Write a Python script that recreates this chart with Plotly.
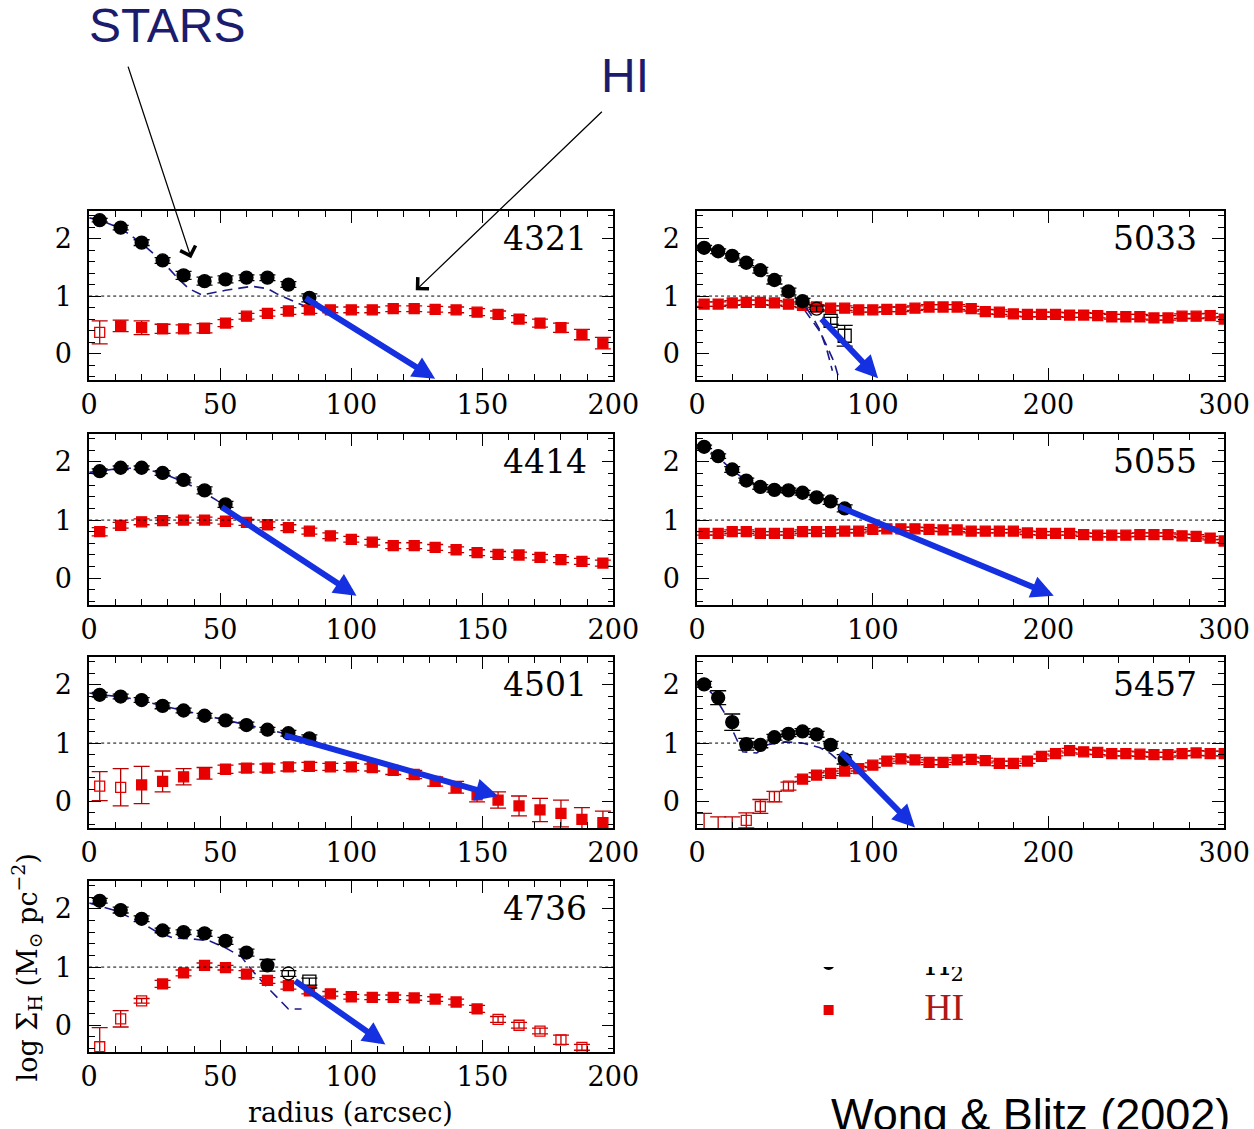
import plotly.graph_objects as go

W, H = 1254, 1129

# ---------------------------------------------------------------- radii (arcsec)
R7 = [4, 12, 20, 28, 36, 44, 52]
R11 = [4, 12, 20, 28, 36, 44, 52, 60, 68, 76, 84]
R24 = [4, 12, 20, 28, 36, 44, 52, 60, 68, 76, 84, 92, 100, 108, 116, 124,
       132, 140, 148, 156, 164, 172, 180, 188]
R25 = R24 + [196]
R38 = [4, 12, 20, 28, 36, 44, 52, 60, 68, 76, 84, 92, 100, 108, 116, 124,
       132, 140, 148, 156, 164, 172, 180, 188, 196, 204, 212, 220, 228, 236,
       244, 252, 260, 268, 276, 284, 292, 300]

# ---------------------------------------------------------------- NGC 4321
h2_4321 = [2.32, 2.19, 1.93, 1.62, 1.36, 1.26, 1.29, 1.32, 1.32, 1.20, 0.97]
h2e_4321 = [0.03, 0.04, 0.05, 0.05, 0.07, 0.07, 0.06, 0.05, 0.05, 0.05, 0.07]
hi_4321 = [0.37, 0.48, 0.45, 0.43, 0.43, 0.44, 0.53, 0.65, 0.70, 0.74, 0.76,
           0.76, 0.76, 0.76, 0.78, 0.78, 0.77, 0.76, 0.72, 0.68, 0.60, 0.53,
           0.45, 0.33, 0.18]
hie_4321 = [0.20, 0.10, 0.12, 0.08, 0.07, 0.08, 0.06, 0.05, 0.05, 0.06, 0.06,
            0.05, 0.05, 0.05, 0.05, 0.05, 0.05, 0.05, 0.06, 0.06, 0.06, 0.07,
            0.08, 0.09, 0.10]
hi_open_4321 = [0]
fitr_4321 = [0, 4, 12, 20, 28, 34, 38, 43, 52, 62, 68, 72, 76, 82]
fit_4321 = [2.36, 2.32, 2.18, 1.92, 1.60, 1.30, 1.13, 1.02, 1.10, 1.17, 1.13,
            1.03, 0.95, 0.83]
arrow_4321 = [82, 0.98, 132, -0.44]

# ---------------------------------------------------------------- NGC 5033
h2_5033 = [1.84, 1.78, 1.70, 1.58, 1.45, 1.28, 1.08, 0.91, 0.78, 0.57, 0.31]
h2e_5033 = [0.04, 0.04, 0.04, 0.05, 0.05, 0.07, 0.06, 0.05, 0.05, 0.06, 0.18]
h2_opencirc_5033 = [8]
h2_opensq_5033 = [9, 10]
hi_5033 = [0.86, 0.86, 0.88, 0.89, 0.89, 0.88, 0.86, 0.84, 0.81, 0.79, 0.79,
           0.76, 0.76, 0.77, 0.77, 0.79, 0.81, 0.81, 0.81, 0.78, 0.73, 0.72,
           0.69, 0.68, 0.68, 0.68, 0.67, 0.67, 0.66, 0.64, 0.64, 0.64, 0.62,
           0.62, 0.65, 0.65, 0.66, 0.60]
hie_5033 = [0.04] * 38
fitr_5033 = [0, 4, 12, 20, 28, 36, 44, 52, 58, 62, 66, 70, 74, 78, 81]
fit_5033 = [1.87, 1.84, 1.78, 1.70, 1.58, 1.45, 1.28, 1.08, 0.92, 0.72, 0.56,
            0.38, 0.12, -0.15, -0.46]
fitr2_5033 = [62, 66, 70, 74, 77]
fit2_5033 = [0.80, 0.62, 0.40, 0.05, -0.30]
arrow_5033 = [70, 0.63, 103, -0.43]

# ---------------------------------------------------------------- NGC 4414
h2_4414 = [1.84, 1.90, 1.90, 1.81, 1.69, 1.51, 1.27]
h2e_4414 = [0.04, 0.03, 0.03, 0.04, 0.05, 0.06, 0.05]
hi_4414 = [0.80, 0.91, 0.97, 0.99, 1.00, 1.00, 0.98, 0.96, 0.92, 0.87, 0.81,
           0.73, 0.67, 0.62, 0.56, 0.56, 0.53, 0.49, 0.44, 0.41, 0.40, 0.36,
           0.32, 0.29, 0.26]
hie_4414 = [0.07] + [0.05] * 24
fitr_4414 = [0, 4, 12, 20, 28, 36, 44, 49]
fit_4414 = [1.82, 1.84, 1.89, 1.89, 1.80, 1.66, 1.47, 1.33]
arrow_4414 = [50, 1.24, 102, -0.30]

# ---------------------------------------------------------------- NGC 5055
h2_5055 = [2.26, 2.10, 1.87, 1.68, 1.57, 1.52, 1.51, 1.47, 1.39, 1.32, 1.20]
h2e_5055 = [0.03, 0.04, 0.05, 0.04, 0.04, 0.04, 0.04, 0.04, 0.04, 0.05, 0.06]
hi_5055 = [0.77, 0.77, 0.80, 0.80, 0.77, 0.77, 0.77, 0.80, 0.80, 0.80, 0.81,
           0.81, 0.84, 0.85, 0.85, 0.85, 0.84, 0.83, 0.83, 0.81, 0.81, 0.81,
           0.81, 0.78, 0.77, 0.77, 0.77, 0.75, 0.74, 0.74, 0.74, 0.75, 0.75,
           0.75, 0.73, 0.72, 0.69, 0.64]
hie_5055 = [0.03] * 38
fitr_5055 = [0, 4, 12, 20, 28, 36, 44, 52, 60, 68, 76, 84]
fit_5055 = [2.30, 2.25, 2.08, 1.86, 1.68, 1.58, 1.53, 1.50, 1.45, 1.38, 1.30,
            1.18]
arrow_5055 = [80, 1.24, 203, -0.30]

# ---------------------------------------------------------------- NGC 4501
h2_4501 = [1.83, 1.80, 1.74, 1.64, 1.56, 1.47, 1.39, 1.31, 1.23, 1.17, 1.08]
h2e_4501 = [0.04, 0.04, 0.04, 0.05, 0.04, 0.04, 0.04, 0.05, 0.04, 0.05, 0.06]
hi_4501 = [0.26, 0.24, 0.28, 0.34, 0.42, 0.48, 0.55, 0.57, 0.57, 0.59, 0.60,
           0.59, 0.59, 0.58, 0.53, 0.46, 0.34, 0.24, 0.11, 0.02, -0.08, -0.15,
           -0.21, -0.31, -0.37]
hie_4501 = [0.25, 0.32, 0.32, 0.18, 0.14, 0.10, 0.07, 0.07, 0.07, 0.07, 0.07,
            0.06, 0.06, 0.06, 0.07, 0.07, 0.08, 0.10, 0.12, 0.14, 0.17, 0.20,
            0.23, 0.20, 0.20]
hi_open_4501 = [0, 1]
fitr_4501 = [0, 4, 12, 20, 28, 36, 44, 52, 60, 68, 76, 84]
fit_4501 = [1.86, 1.83, 1.80, 1.73, 1.64, 1.56, 1.47, 1.39, 1.31, 1.23, 1.16,
            1.07]
arrow_4501 = [74, 1.14, 156, 0.09]

# ---------------------------------------------------------------- NGC 5457
h2_5457 = [2.01, 1.78, 1.36, 0.98, 0.97, 1.10, 1.16, 1.20, 1.15, 0.97, 0.72]
h2e_5457 = [0.05, 0.12, 0.14, 0.10, 0.05, 0.05, 0.05, 0.05, 0.05, 0.06, 0.08]
hi_5457 = [-0.62, -0.62, -0.62, -0.33, -0.09, 0.08, 0.26, 0.38, 0.45, 0.48,
           0.52, 0.56, 0.62, 0.69, 0.73, 0.71, 0.67, 0.67, 0.71, 0.72, 0.70,
           0.65, 0.65, 0.69, 0.77, 0.82, 0.87, 0.85, 0.84, 0.82, 0.82, 0.81,
           0.80, 0.80, 0.82, 0.83, 0.82, 0.82]
hie_up_5457 = [0.41, 0.35, 0.35, 0.13, 0.12, 0.09, 0.07] + [0.04] * 31
hie_lo_5457 = [0.10, 0.10, 0.10, 0.13, 0.12, 0.09, 0.07] + [0.04] * 31
hi_open_5457 = [0, 1, 2, 3, 4, 5, 6]
fitr_5457 = [0, 4, 10, 16, 22, 26, 34, 40, 50, 60, 70, 76, 82]
fit_5457 = [2.05, 2.00, 1.80, 1.50, 1.10, 0.85, 0.83, 0.97, 1.02, 1.00, 0.92,
            0.82, 0.66]
arrow_5457 = [81, 0.87, 124, -0.45]

# ---------------------------------------------------------------- NGC 4736
h2_4736 = [2.14, 1.98, 1.83, 1.63, 1.60, 1.58, 1.45, 1.25, 1.03, 0.89, 0.75]
h2e_4736 = [0.04, 0.05, 0.05, 0.04, 0.04, 0.05, 0.06, 0.06, 0.10, 0.05, 0.06]
h2_opencirc_4736 = [9]
h2_opensq_4736 = [10]
hi_4736 = [-0.37, 0.11, 0.42, 0.71, 0.90, 1.03, 0.99, 0.88, 0.77, 0.68, 0.59,
           0.54, 0.49, 0.48, 0.48, 0.47, 0.45, 0.40, 0.28, 0.10, 0.00, -0.10,
           -0.25, -0.38]
hie_4736 = [0.33, 0.14, 0.04, 0.06, 0.05, 0.04, 0.04, 0.06, 0.05, 0.06, 0.05,
            0.04, 0.04, 0.04, 0.04, 0.04, 0.04, 0.05, 0.06, 0.05, 0.05, 0.05,
            0.08, 0.05]
hi_open_4736 = [0, 1, 2, 19, 20, 21, 22, 23]
fitr_4736 = [0, 10, 20, 26, 32, 40, 46, 52, 58, 63, 68, 73, 76, 81]
fit_4736 = [2.10, 1.97, 1.76, 1.60, 1.50, 1.48, 1.45, 1.33, 1.18, 0.90, 0.65,
            0.42, 0.28, 0.28]
arrow_4736 = [78, 0.78, 113, -0.33]

# ---------------------------------------------------------------- styling
SERIF = "DejaVu Serif"
RED = "#e80000"
RED_BAR = "#b80000"
FIT_BLUE = "#1a1a8a"
ARROW_BLUE = "#1430e0"
NAVY = "#1c1c6e"
YRANGE = [-0.46, 2.48]

# the page is shown slightly narrowed horizontally; lay things out in
# target pixels and convert here
XS, X0 = 0.9755, 7.5


def xp(px):
    return (px - X0) / XS / W


def dx(px):
    return px / XS


LEFT = [xp(88), xp(614)]
RIGHT = [xp(698), xp(1227)]
ROWS = [(211, 380), (434, 605), (657, 828), (881, 1052)]


def ydom(row):
    top, bot = ROWS[row]
    return [1 - bot / H, 1 - top / H]


fig = go.Figure()


def symbols(n, base, open_idx, alt_idx=(), alt="square-open"):
    out = []
    for i in range(n):
        if i in alt_idx:
            out.append(alt)
        elif i in open_idx:
            out.append(base + "-open")
        else:
            out.append(base)
    return out


def fit_line(xa, ya, r, v):
    fig.add_trace(go.Scatter(x=r, y=v, mode="lines", xaxis=xa, yaxis=ya,
                             line=dict(color=FIT_BLUE, width=1.6,
                                       dash="10px,6px"),
                             showlegend=False, hoverinfo="skip"))


def panel(k, name, col, row, r_h2, h2, h2e, r_hi, hi, hie, fitr, fit, arrow,
          hi_open=(), h2_open=(), h2_sq=(), hie_lo=None):
    sx = "" if k == 1 else str(k)
    xa, ya = "x" + sx, "y" + sx
    xmax = 200 if col == 0 else 300
    # stellar-disk model curve
    fit_line(xa, ya, fitr, fit)
    # atomic gas
    fig.add_trace(go.Scatter(
        x=r_hi, y=hi, mode="markers", xaxis=xa, yaxis=ya, showlegend=False,
        marker=dict(symbol=symbols(len(hi), "square", hi_open), size=10,
                    color=RED, line=dict(color=RED, width=1.3)),
        error_y=dict(type="data", array=hie,
                     arrayminus=hie_lo if hie_lo is not None else hie,
                     symmetric=hie_lo is None, color=RED_BAR,
                     thickness=1.3, width=8)))
    # molecular gas
    fig.add_trace(go.Scatter(
        x=r_h2, y=h2, mode="markers", xaxis=xa, yaxis=ya, showlegend=False,
        marker=dict(symbol=symbols(len(h2), "circle", h2_open, h2_sq),
                    size=13, color="black", line=dict(color="black", width=1.3)),
        error_y=dict(type="data", array=h2e, color="black", thickness=1.3,
                     width=8)))
    axis_common = dict(showline=True, linecolor="black", linewidth=1.6,
                       mirror="ticks", ticks="inside", ticklen=12,
                       tickwidth=1.2, tickcolor="black", showgrid=False,
                       zeroline=False,
                       tickfont=dict(family=SERIF, size=27, color="black"))
    fig.update_layout(**{
        ("xaxis" + sx): dict(axis_common, domain=LEFT if col == 0 else RIGHT,
                             range=[0, xmax], anchor=ya,
                             dtick=50 if col == 0 else 100, tick0=0,
                             ticklabelstandoff=0,
                             minor=dict(dtick=10 if col == 0 else 20,
                                        ticks="inside", ticklen=6,
                                        tickcolor="black", tickwidth=1)),
        ("yaxis" + sx): dict(axis_common, domain=ydom(row), range=YRANGE,
                             anchor=xa, dtick=1, tick0=0, ticklabelstandoff=10,
                             minor=dict(dtick=0.2, ticks="inside", ticklen=6,
                                        tickcolor="black", tickwidth=1)),
    })
    # 10 Msun/pc^2 reference level
    fig.add_shape(type="line", xref=xa + " domain", yref=ya, x0=0, x1=1,
                  y0=1, y1=1, line=dict(color="black", width=1, dash="3px,3px"))
    # galaxy name
    fig.add_annotation(text=name, xref=xa + " domain", yref=ya, x=0.953, y=2.0,
                       xanchor="right", yanchor="middle", showarrow=False,
                       font=dict(family=SERIF, size=33, color="black"))
    # extrapolated stellar-disk decline
    fig.add_annotation(x=arrow[2], y=arrow[3], ax=arrow[0], ay=arrow[1],
                       xref=xa, yref=ya, axref=xa, ayref=ya, text="",
                       showarrow=True, arrowhead=2, arrowsize=0.75,
                       arrowwidth=6, arrowcolor=ARROW_BLUE)


panel(1, "4321", 0, 0, R11, h2_4321, h2e_4321, R25, hi_4321, hie_4321,
      fitr_4321, fit_4321, arrow_4321, hi_open=hi_open_4321)
panel(2, "5033", 1, 0, R11, h2_5033, h2e_5033, R38, hi_5033, hie_5033,
      fitr_5033, fit_5033, arrow_5033, h2_open=h2_opencirc_5033,
      h2_sq=h2_opensq_5033)
fit_line("x2", "y2", fitr2_5033, fit2_5033)
panel(3, "4414", 0, 1, R7, h2_4414, h2e_4414, R25, hi_4414, hie_4414,
      fitr_4414, fit_4414, arrow_4414)
panel(4, "5055", 1, 1, R11, h2_5055, h2e_5055, R38, hi_5055, hie_5055,
      fitr_5055, fit_5055, arrow_5055)
panel(5, "4501", 0, 2, R11, h2_4501, h2e_4501, R25, hi_4501, hie_4501,
      fitr_4501, fit_4501, arrow_4501, hi_open=hi_open_4501)
panel(6, "5457", 1, 2, R11, h2_5457, h2e_5457, R38, hi_5457, hie_up_5457,
      fitr_5457, fit_5457, arrow_5457, hi_open=hi_open_5457,
      hie_lo=hie_lo_5457)
panel(7, "4736", 0, 3, R11, h2_4736, h2e_4736, R24, hi_4736, hie_4736,
      fitr_4736, fit_4736, arrow_4736, hi_open=hi_open_4736,
      h2_open=h2_opencirc_4736, h2_sq=h2_opensq_4736)

# ---------------------------------------------------------------- key (partly covered)
fig.update_layout(
    xaxis8=dict(domain=[xp(770), xp(1010)], range=[770, 1010], visible=False,
                anchor="y8"),
    yaxis8=dict(domain=[1 - 1040 / H, 1 - 967 / H], range=[1040, 967],
                visible=False, anchor="x8"),
)
fig.add_trace(go.Scatter(x=[830], y=[964], mode="markers", xaxis="x8",
                         yaxis="y8", cliponaxis=True, showlegend=False,
                         marker=dict(symbol="circle", size=12, color="black")))
fig.add_trace(go.Scatter(x=[946], y=[967], mode="text", xaxis="x8", yaxis="y8",
                         text=["H<sub>2</sub>"], cliponaxis=True,
                         showlegend=False,
                         textfont=dict(family=SERIF, size=30, color="black")))
fig.add_trace(go.Scatter(x=[830], y=[1010], mode="markers", xaxis="x8",
                         yaxis="y8", showlegend=False,
                         marker=dict(symbol="square", size=10, color=RED)))
fig.add_trace(go.Scatter(x=[946], y=[1010], mode="text", xaxis="x8",
                         yaxis="y8", text=["HI"], showlegend=False,
                         textfont=dict(family="Liberation Serif", size=38,
                                       color="#b01818")))

# ---------------------------------------------------------------- axis titles
fig.add_annotation(text="radius (arcsec)", xref="paper", yref="paper",
                   x=xp(350), y=1 - 1112 / H, xanchor="center",
                   yanchor="middle", showarrow=False,
                   font=dict(family=SERIF, size=27, color="black"))
fig.add_annotation(text="log \u03a3<sub>H</sub> (M<sub>\u2299</sub> pc<sup>\u22122</sup>)",
                   xref="paper", yref="paper", x=xp(25), y=1 - 967 / H,
                   xanchor="center", yanchor="middle", textangle=-90,
                   showarrow=False,
                   font=dict(family=SERIF, size=27, color="black"))

# ---------------------------------------------------------------- slide labels
fig.add_annotation(text="STARS", xref="paper", yref="paper", x=xp(166),
                   y=1 - 25 / H, xanchor="center", yanchor="middle",
                   showarrow=False,
                   font=dict(family="Liberation Sans", size=48, color=NAVY))
fig.add_annotation(text="HI", xref="paper", yref="paper", x=xp(626),
                   y=1 - 75 / H, xanchor="center", yanchor="middle",
                   showarrow=False,
                   font=dict(family="Liberation Sans", size=48, color=NAVY))
fig.add_annotation(x=38.9, y=1.66, xref="x", yref="y", ax=dx(-62), ay=-193,
                   text="", showarrow=True, arrowhead=4, arrowsize=2.4,
                   arrowwidth=1.3, arrowcolor="black")
fig.add_annotation(x=124.6, y=1.10, xref="x", yref="y", ax=dx(183), ay=-180,
                   text="", showarrow=True, arrowhead=4, arrowsize=2.4,
                   arrowwidth=1.3, arrowcolor="black")
fig.add_annotation(text="Wong & Blitz (2002)", xref="paper", yref="paper",
                   x=xp(830), y=1 - 1087 / H, xanchor="left", yanchor="top",
                   showarrow=False,
                   font=dict(family="Liberation Sans", size=45, color="black"))

fig.update_layout(width=W, height=H, margin=dict(l=0, r=0, t=0, b=0),
                  paper_bgcolor="white", plot_bgcolor="white",
                  showlegend=False)

fig.write_html("out.html")
